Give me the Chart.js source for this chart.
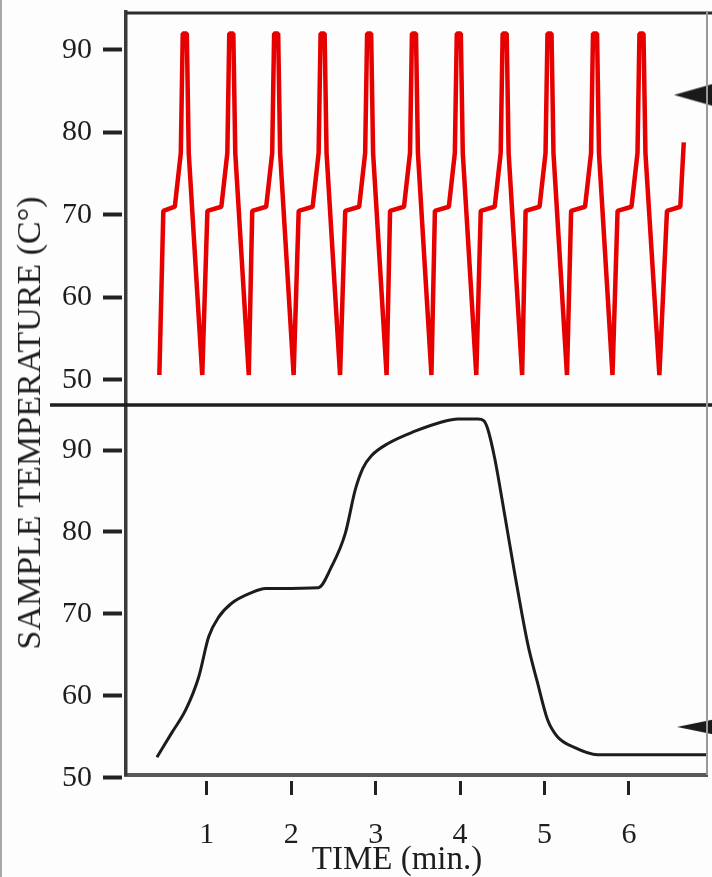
<!DOCTYPE html>
<html>
<head>
<meta charset="utf-8">
<script src="https://cdn.jsdelivr.net/npm/chart.js@4/dist/chart.umd.min.js"></script>
<style>
  html, body { margin: 0; padding: 0; background: #fdfdfd; }
  #wrap { position: relative; width: 712px; height: 877px; overflow: hidden; }
  #edge { position: absolute; left: 0; top: 0; width: 2px; height: 877px; background: #a8a8a8; }
  .title {
    position: absolute; white-space: nowrap; line-height: 1;
    font-family: 'Liberation Serif', 'Times New Roman', serif; color: #1e1e1e;
    transform: translate(-50%, -50%);
  }
  #ytitle { left: 29px; top: 423px; font-size: 34px; transform: translate(-50%, -50%) rotate(-90deg); }
  #xtitle { left: 397px; top: 858px; font-size: 33px; }
</style>
</head>
<body>
<div id="wrap">
  <canvas id="chart" width="712" height="877"></canvas>
  <div id="edge"></div>
  <div class="title" id="ytitle">SAMPLE TEMPERATURE (C°)</div>
  <div class="title" id="xtitle">TIME (min.)</div>
</div>
<script>
// Tick labels
const xTickValues = [1, 2, 3, 4, 5, 6];
const yTickValues = [50, 60, 70, 80, 90];

// Top panel: cycled sample temperature (red)
const redTime = [
  0.439, 0.486, 0.622, 0.693, 0.716, 0.764, 0.787, 0.947,
  1.008, 1.173, 1.244, 1.267, 1.315, 1.338, 1.498,
  1.539, 1.704, 1.775, 1.798, 1.846, 1.869, 2.029,
  2.089, 2.254, 2.325, 2.348, 2.396, 2.419, 2.579,
  2.640, 2.805, 2.876, 2.899, 2.947, 2.970, 3.130,
  3.171, 3.336, 3.407, 3.430, 3.478, 3.501, 3.661,
  3.702, 3.867, 3.938, 3.961, 4.009, 4.032, 4.192,
  4.245, 4.410, 4.481, 4.504, 4.552, 4.575, 4.735,
  4.776, 4.941, 5.012, 5.035, 5.083, 5.106, 5.266,
  5.315, 5.480, 5.551, 5.574, 5.622, 5.645, 5.805,
  5.865, 6.030, 6.101, 6.124, 6.172, 6.195, 6.360,
  6.450, 6.608, 6.649
];
const redTemp = [
  50.6, 70.5, 71.0, 77.5, 92.0, 92.0, 77.5, 50.6,
  70.5, 71.0, 77.5, 92.0, 92.0, 77.5, 50.6,
  70.5, 71.0, 77.5, 92.0, 92.0, 77.5, 50.6,
  70.5, 71.0, 77.5, 92.0, 92.0, 77.5, 50.6,
  70.5, 71.0, 77.5, 92.0, 92.0, 77.5, 50.6,
  70.5, 71.0, 77.5, 92.0, 92.0, 77.5, 50.6,
  70.5, 71.0, 77.5, 92.0, 92.0, 77.5, 50.6,
  70.5, 71.0, 77.5, 92.0, 92.0, 77.5, 50.6,
  70.5, 71.0, 77.5, 92.0, 92.0, 77.5, 50.6,
  70.5, 71.0, 77.5, 92.0, 92.0, 77.5, 50.6,
  70.5, 71.0, 77.5, 92.0, 92.0, 77.5, 50.6,
  70.5, 71.0, 78.8
];

// Bottom panel: single slow run (black)
const blackTime = [
  0.41, 0.587, 0.752, 0.905, 1.023, 1.141, 1.295, 1.531, 1.696, 2.321,
  2.475, 2.64, 2.76, 2.85, 2.95, 3.147, 3.466, 3.773, 3.974, 4.21, 4.28,
  4.327, 4.41, 4.528, 4.646, 4.8, 4.917, 5.035, 5.153, 5.353, 5.625, 6.95
];
const blackTemp = [
  52.5, 55.5, 58.3, 62.3, 67.2, 69.6, 71.3, 72.6, 73.1, 73.2,
  75.7, 79.8, 85.2, 87.8, 89.3, 90.8, 92.3, 93.4, 93.8, 93.8, 93.6,
  92.6, 89.0, 82.1, 75.0, 66.4, 61.6, 57.1, 55.0, 53.7, 52.8, 52.8
];

// Arrow markers at the right edge (top panel, bottom panel)
const arrowTime = [6.794, 6.829];
const arrowTemp = [84.55, 56.2];

function toPoints(xs, ys) {
  return xs.map((x, i) => ({ x: x, y: ys[i] }));
}

function arrowHead(w, h) {
  const c = document.createElement('canvas');
  c.width = w; c.height = h;
  const g = c.getContext('2d');
  g.fillStyle = '#1a1a1a';
  g.beginPath();
  g.moveTo(0, h / 2);
  g.lineTo(w, 0);
  g.lineTo(w, h);
  g.closePath();
  g.fill();
  return c;
}

const serif = "'Liberation Serif', 'Times New Roman', serif";

// frame lines that Chart.js does not draw itself
const framePlugin = {
  id: 'frames',
  afterDatasetsDraw(chart) {
    const { ctx, chartArea } = chart;
    const top = chart.scales.yTop;
    ctx.save();
    ctx.strokeStyle = '#2c2c2c';
    ctx.lineWidth = 3;
    ctx.beginPath();
    ctx.moveTo(chartArea.left, top.top + 1);
    ctx.lineTo(chart.width, top.top + 1);
    ctx.stroke();
    ctx.strokeStyle = '#1e1e1e';
    ctx.lineWidth = 3.5;
    ctx.beginPath();
    ctx.moveTo(chartArea.left - 76, top.bottom);
    ctx.lineTo(chart.width, top.bottom);
    ctx.stroke();
    ctx.strokeStyle = '#9a9a9a';
    ctx.lineWidth = 2;
    ctx.beginPath();
    ctx.moveTo(chartArea.right, top.top);
    ctx.lineTo(chartArea.right, chartArea.bottom);
    ctx.stroke();
    ctx.restore();
  }
};

function yAxis(min, max, weight) {
  return {
    type: 'linear',
    position: 'left',
    stack: 'temp',
    stackWeight: weight,
    min: min,
    max: max,
    afterBuildTicks: s => { s.ticks = yTickValues.map(v => ({ value: v })); },
    afterFit: s => { s.width = 126; s.paddingTop = 0; s.paddingBottom = 0; },
    border: { color: '#3a3a3a', width: 3.5 },
    grid: {
      drawOnChartArea: false,
      tickLength: 23,
      tickWidth: 4,
      tickColor: '#222',
      tickBorderDash: [19, 10]
    },
    ticks: { padding: 11, color: '#1e1e1e', font: { family: serif, size: 30 } }
  };
}

new Chart(document.getElementById('chart'), {
  type: 'line',
  data: {
    datasets: [
      {
        data: toPoints(redTime, redTemp),
        yAxisID: 'yTop',
        borderColor: '#e60000',
        borderWidth: 4.5,
        borderJoinStyle: 'bevel',
        pointRadius: 0,
        tension: 0
      },
      {
        data: toPoints(blackTime, blackTemp),
        yAxisID: 'yBot',
        borderColor: '#1c1c1c',
        borderWidth: 3,
        pointRadius: 0,
        cubicInterpolationMode: 'monotone'
      },
      {
        data: [{ x: arrowTime[0], y: arrowTemp[0] }],
        yAxisID: 'yTop',
        showLine: false,
        pointStyle: arrowHead(44, 25),
        clip: false
      },
      {
        data: [{ x: arrowTime[1], y: arrowTemp[1] }],
        yAxisID: 'yBot',
        showLine: false,
        pointStyle: arrowHead(44, 18),
        clip: false
      }
    ]
  },
  options: {
    responsive: false,
    animation: false,
    devicePixelRatio: 1,
    layout: { padding: { top: 12, right: 2, left: 0, bottom: 0 } },
    plugins: {
      legend: { display: false },
      tooltip: { enabled: false }
    },
    scales: {
      x: {
        type: 'linear',
        position: 'bottom',
        min: 0.044,
        max: 6.924,
        afterBuildTicks: s => { s.ticks = xTickValues.map(v => ({ value: v })); },
        afterFit: s => { s.height = 102; },
        border: { color: '#5a5a5a', width: 4 },
        grid: {
          drawOnChartArea: false,
          tickLength: 20,
          tickWidth: 3,
          tickColor: '#222',
          tickBorderDash: [14, 4],
          tickBorderDashOffset: 14
        },
        ticks: { padding: 22, color: '#1e1e1e', font: { family: serif, size: 30 } }
      },
      yBot: yAxis(50.33, 95.5, 370),
      yTop: yAxis(46.97, 94.6, 393)
    }
  },
  plugins: [framePlugin]
});
</script>
</body>
</html>
